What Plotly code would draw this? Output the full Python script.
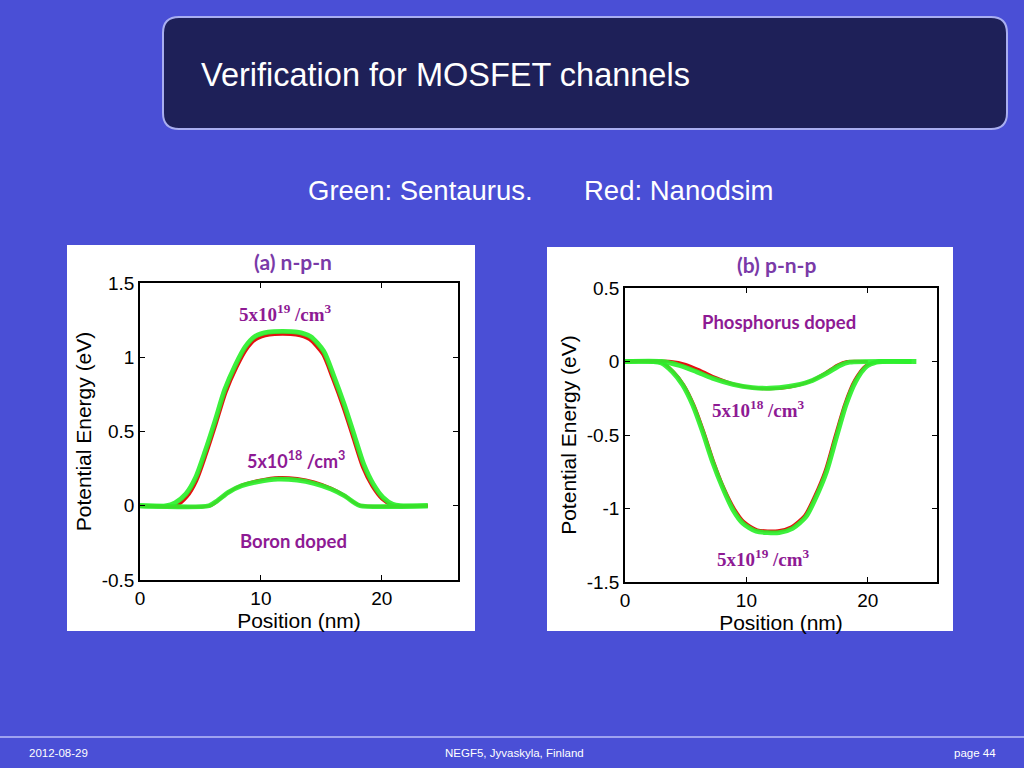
import plotly.graph_objects as go

# ---------------- data ----------------
# (a) n-p-n, 5e19 (high) and 5e18 (low)
a_hi_green_x = [0, 2.1, 2.9, 3.8, 4.6, 5.4, 6.2, 7.0, 7.9, 8.7, 9.5, 10.6, 13.0, 14.1, 15.2, 16.0, 16.9, 17.7, 18.5, 19.3, 20.1, 20.9, 21.5, 23.8]
a_hi_green_y = [0, 0, 0.02, 0.08, 0.19, 0.37, 0.57, 0.78, 0.95, 1.07, 1.14, 1.17, 1.17, 1.14, 1.04, 0.88, 0.68, 0.48, 0.28, 0.145, 0.056, 0.01, 0, 0]
a_hi_red_x = [0, 3.0, 3.9, 4.7, 5.5, 6.3, 7.1, 8.0, 8.8, 9.6, 10.7, 12.9, 14.0, 15.1, 15.9, 16.8, 17.6, 18.4, 19.2, 20.0, 20.8, 21.2]
a_hi_red_y = [0, 0, 0.06, 0.17, 0.35, 0.55, 0.76, 0.93, 1.05, 1.12, 1.15, 1.15, 1.12, 1.02, 0.86, 0.66, 0.46, 0.26, 0.13, 0.045, 0.005, 0]
a_lo_green_x = [0, 5.7, 6.4, 7.3, 8.4, 9.8, 11.4, 13.0, 14.4, 15.8, 16.9, 17.7, 18.2, 23.8]
a_lo_green_y = [0, 0, 0.034, 0.09, 0.134, 0.163, 0.179, 0.172, 0.15, 0.112, 0.067, 0.022, 0, 0]
a_lo_red_x = [0, 5.8, 6.5, 7.4, 8.5, 9.9, 11.5, 13.0, 14.4, 15.8, 16.9, 17.7, 18.3, 23.8]
a_lo_red_y = [0, 0, 0.038, 0.096, 0.142, 0.172, 0.19, 0.183, 0.16, 0.118, 0.07, 0.022, 0, 0]

# (b) p-n-p
b_lo_green_x = [0, 3.0, 4.5, 5.85, 7.2, 8.9, 10.5, 11.9, 13.5, 15.2, 16.6, 17.7, 18.5, 23.6]
b_lo_green_y = [0, 0, -0.027, -0.068, -0.114, -0.155, -0.177, -0.182, -0.17, -0.136, -0.08, -0.027, -0.005, 0]
b_lo_red_x = [0, 3.8, 5.0, 6.2, 7.5, 9.0, 10.6, 12.0, 13.6, 15.2, 16.5, 17.5, 18.3, 20.0]
b_lo_red_y = [0, 0, -0.02, -0.06, -0.11, -0.155, -0.18, -0.186, -0.174, -0.136, -0.078, -0.024, 0, 0]
b_hi_green_x = [0, 3.0, 3.9, 4.75, 5.6, 6.4, 7.2, 8.05, 8.9, 9.7, 10.8, 12.7, 13.8, 14.9, 15.7, 16.6, 17.4, 18.2, 19.0, 19.9, 20.7, 21.2, 24.0]
b_hi_green_y = [0, -0.01, -0.07, -0.16, -0.3, -0.48, -0.68, -0.86, -1.01, -1.10, -1.155, -1.164, -1.136, -1.057, -0.93, -0.75, -0.52, -0.295, -0.136, -0.034, -0.005, 0, 0]
b_hi_red_x = [0, 3.1, 4.0, 4.85, 5.7, 6.5, 7.3, 8.15, 9.0, 9.8, 10.9, 12.6, 13.7, 14.8, 15.6, 16.5, 17.3, 18.1, 18.9, 19.8, 20.6, 21.0]
b_hi_red_y = [0, -0.01, -0.07, -0.16, -0.3, -0.48, -0.68, -0.86, -1.0, -1.09, -1.145, -1.152, -1.125, -1.047, -0.92, -0.74, -0.51, -0.29, -0.13, -0.03, -0.004, 0]

x_ticks = [0, 10, 20]
a_y_ticks = [-0.5, 0, 0.5, 1, 1.5]
b_y_ticks = [-1.5, -1, -0.5, 0, 0.5]

RED = "#e41010"
GREEN = "#2cf02c"
PURPLE = "#8e1a94"
TITLE_PURPLE = "#7a3aa8"
BG = "#4a4fd6"

W, H = 1024, 768
def px(x): return x / W
def py(y): return 1 - y / H

fig = go.Figure()

def add_pair(xr, yr, xg, yg, xa, ya):
    fig.add_trace(go.Scatter(x=xr, y=yr, mode="lines", line=dict(color=RED, width=3, shape="spline", smoothing=0.7),
                             xaxis=xa, yaxis=ya, showlegend=False, hoverinfo="skip"))
    fig.add_trace(go.Scatter(x=xg, y=yg, mode="lines", line=dict(color=GREEN, width=4.8, shape="spline", smoothing=0.7),
                             xaxis=xa, yaxis=ya, showlegend=False, hoverinfo="skip", opacity=0.92))

add_pair(a_hi_red_x, a_hi_red_y, a_hi_green_x, a_hi_green_y, "x", "y")
add_pair(a_lo_red_x, a_lo_red_y, a_lo_green_x, a_lo_green_y, "x", "y")
add_pair(b_hi_red_x, b_hi_red_y, b_hi_green_x, b_hi_green_y, "x2", "y2")
add_pair(b_lo_red_x, b_lo_red_y, b_lo_green_x, b_lo_green_y, "x2", "y2")

SANS = "Liberation Sans, Arial, sans-serif"
TICKFONT = dict(family=SANS, size=19, color="black")
TITLEFONT = dict(family=SANS, size=21, color="black")
axis_common = dict(showline=True, linecolor="black", linewidth=1.5, mirror="ticks", ticks="inside",
                   ticklen=5, tickcolor="black", showgrid=False, zeroline=False, tickfont=TICKFONT,
                   automargin=False)

fig.update_layout(
    autosize=True, margin=dict(l=0, r=0, t=0, b=0, pad=0, autoexpand=False),
    paper_bgcolor=BG, plot_bgcolor="white",
    xaxis=dict(domain=[px(140), px(458)], range=[0, 26.3], tickvals=x_ticks, anchor="y",
               title=dict(text="Position (nm)", font=TITLEFONT, standoff=0), **axis_common),
    yaxis=dict(domain=[py(580), py(283)], range=[-0.5, 1.5], tickvals=a_y_ticks, ticktext=["-0.5", "0", "0.5", "1", "1.5"],
               anchor="x", title=dict(text="Potential Energy (eV)", font=TITLEFONT, standoff=4), **axis_common),
    xaxis2=dict(domain=[px(625), px(937)], range=[0, 25.7], tickvals=x_ticks, anchor="y2",
                title=dict(text="Position (nm)", font=TITLEFONT, standoff=0), **axis_common),
    yaxis2=dict(domain=[py(582), py(288)], range=[-1.5, 0.5], tickvals=b_y_ticks, ticktext=["-1.5", "-1", "-0.5", "0", "0.5"],
                anchor="x2", title=dict(text="Potential Energy (eV)", font=TITLEFONT, standoff=4), **axis_common),
)

# ---------- shapes (slide decoration) ----------
def rounded_rect(x0, y0, x1, y1, r):
    X0, X1 = px(x0), px(x1)
    Y0, Y1 = py(y0), py(y1)
    rx, ry = r / W, r / H
    return (f"M {X0+rx} {Y0} L {X1-rx} {Y0} Q {X1} {Y0} {X1} {Y0-ry} "
            f"L {X1} {Y1+ry} Q {X1} {Y1} {X1-rx} {Y1} L {X0+rx} {Y1} Q {X0} {Y1} {X0} {Y1+ry} "
            f"L {X0} {Y0-ry} Q {X0} {Y0} {X0+rx} {Y0} Z")

shapes = [
    dict(type="path", xref="paper", yref="paper", path=rounded_rect(163, 17, 1007, 129, 16),
         fillcolor="#1e2058", line=dict(color="#a9aef0", width=2), layer="below"),
    dict(type="rect", xref="paper", yref="paper", x0=px(67), x1=px(475), y0=py(631), y1=py(245),
         fillcolor="white", line=dict(width=0), layer="below"),
    dict(type="rect", xref="paper", yref="paper", x0=px(547), x1=px(953), y0=py(631), y1=py(247),
         fillcolor="white", line=dict(width=0), layer="below"),
    dict(type="line", xref="paper", yref="paper", x0=0, x1=1, y0=py(737), y1=py(737),
         line=dict(color="#9ea2f0", width=2)),
]
fig.update_layout(shapes=shapes)

CAL = "Lato, Open Sans, sans-serif"
SERIF = "Liberation Serif, Times New Roman, serif"

anns = [
    dict(text="Verification for MOSFET channels", x=px(199), y=py(75), xanchor="left", yanchor="middle",
         font=dict(family=SANS, size=32.5, color="white")),
    dict(text="Green: Sentaurus.", x=px(306), y=py(191), xanchor="left", yanchor="middle",
         font=dict(family=SANS, size=27.5, color="white")),
    dict(text="Red: Nanodsim", x=px(582), y=py(191), xanchor="left", yanchor="middle",
         font=dict(family=SANS, size=27.5, color="white")),
    dict(text="2012-08-29", x=px(27), y=py(753), xanchor="left", yanchor="middle",
         font=dict(family=SANS, size=11.5, color="white")),
    dict(text="NEGF5, Jyvaskyla, Finland", x=px(443), y=py(753), xanchor="left", yanchor="middle",
         font=dict(family=SANS, size=11.5, color="white")),
    dict(text="page 44", x=px(998), y=py(753), xanchor="right", yanchor="middle",
         font=dict(family=SANS, size=11.5, color="white")),
    # panel titles
    dict(text="<b>(a) n-p-n</b>", x=px(293), y=py(262), xanchor="center", yanchor="middle",
         font=dict(family=CAL, size=21, color=TITLE_PURPLE)),
    dict(text="<b>(b) p-n-p</b>", x=px(776), y=py(265), xanchor="center", yanchor="middle",
         font=dict(family=CAL, size=21, color=TITLE_PURPLE)),
    # in-plot labels (data coordinates)
    dict(text="<b>5x10<sup>19</sup> /cm<sup>3</sup></b>", x=12.07, y=1.30, xref="x", yref="y",
         xanchor="center", yanchor="middle", font=dict(family=SERIF, size=19, color=PURPLE)),
    dict(text="<b>5x10<sup>18</sup> /cm<sup>3</sup></b>", x=12.9, y=0.31, xref="x", yref="y",
         xanchor="center", yanchor="middle", font=dict(family=CAL, size=18, color=PURPLE)),
    dict(text="<b>Boron doped</b>", x=12.7, y=-0.24, xref="x", yref="y",
         xanchor="center", yanchor="middle", font=dict(family=CAL, size=18.5, color=PURPLE)),
    dict(text="<b>Phosphorus doped</b>", x=12.7, y=0.27, xref="x2", yref="y2",
         xanchor="center", yanchor="middle", font=dict(family=CAL, size=18.5, color=PURPLE)),
    dict(text="<b>5x10<sup>18</sup> /cm<sup>3</sup></b>", x=11.0, y=-0.32, xref="x2", yref="y2",
         xanchor="center", yanchor="middle", font=dict(family=SERIF, size=19, color=PURPLE)),
    dict(text="<b>5x10<sup>19</sup> /cm<sup>3</sup></b>", x=11.4, y=-1.34, xref="x2", yref="y2",
         xanchor="center", yanchor="middle", font=dict(family=SERIF, size=19, color=PURPLE)),
]
for a in anns:
    a.setdefault("xref", "paper")
    a.setdefault("yref", "paper")
    a["showarrow"] = False
fig.update_layout(annotations=anns)

post = (
    "document.documentElement.style.margin='0';"
    "document.documentElement.style.overflow='hidden';"
    "document.body.style.margin='0';document.body.style.padding='0';"
    "document.body.style.overflow='hidden';"
    "var d=document.getElementsByClassName('plotly-graph-div')[0];"
    "d.style.position='fixed';d.style.left='0px';d.style.top='0px';"
    "d.style.width='100vw';d.style.height='100vh';"
    "Plotly.Plots.resize(d);"
)
fig.write_html("out.html", config={"displayModeBar": False, "responsive": True},
               default_width="100vw", default_height="100vh", post_script=post)
